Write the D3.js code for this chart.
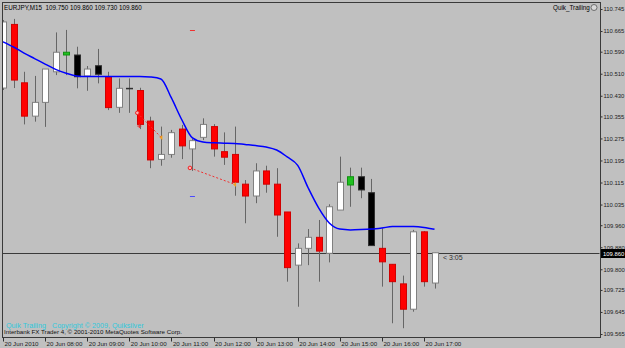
<!DOCTYPE html>
<html>
<head>
<meta charset="utf-8">
<script src="https://cdn.jsdelivr.net/npm/d3@7"></script>
<style>
    body { margin: 0; background: #c0c0c0; }
    svg { display: block; font-family: "Liberation Sans", Arial, sans-serif; }
</style>
</head>
<body>
<div id="chart"></div>
<script>
// EURJPY M15, 20 Jun 2010, bars from 07:00 to 17:15
var opens  = [110.458,110.689,110.477,110.356,110.406,110.517,110.578,110.578,110.502,110.539,110.499,110.388,110.457,110.449,110.338,110.199,110.217,110.309,110.237,110.279,110.318,110.227,110.217,110.109,110.066,110.157,110.109,110.008,109.815,109.876,109.916,109.858,110.015,110.106,110.136,110.078,109.876,109.818,109.747,109.655,109.936,109.750];
var highs  = [110.705,110.709,110.517,110.502,110.527,110.660,110.669,110.608,110.538,110.600,110.517,110.493,110.493,110.459,110.354,110.318,110.306,110.324,110.273,110.348,110.327,110.297,110.318,110.124,110.185,110.176,110.167,110.008,109.894,109.946,109.979,110.036,110.209,110.169,110.169,110.128,109.949,109.818,109.777,109.943,109.939,109.860];
var lows   = [110.451,110.458,110.326,110.336,110.317,110.505,110.505,110.457,110.448,110.475,110.378,110.368,110.368,110.309,110.167,110.176,110.205,110.200,110.157,110.269,110.209,110.179,110.067,109.967,110.040,110.078,109.918,109.755,109.664,109.815,109.755,109.825,110.015,110.027,110.058,109.886,109.737,109.604,109.586,109.646,109.737,109.730];
var closes = [110.698,110.487,110.356,110.406,110.527,110.588,110.588,110.499,110.527,110.508,110.387,110.457,110.457,110.326,110.197,110.217,110.296,110.248,110.267,110.326,110.237,110.207,110.116,110.066,110.157,110.109,109.997,109.806,109.876,109.916,109.866,110.027,110.116,110.136,110.088,109.886,109.827,109.755,109.655,109.936,109.755,109.860];
// w = white, r = red, k = black, g = green (colouring from the indicator)
var kinds  = ["w","r","r","w","w","w","g","k","w","k","r","w","k","r","r","w","w","r","w","w","r","r","r","r","w","r","r","r","w","w","r","w","w","g","k","k","r","r","r","w","r","w"];

// Quik_Trailing blue line
var trailLine = [110.626,110.607,110.585,110.565,110.545,110.526,110.512,110.502,110.500,110.500,110.500,110.500,110.500,110.500,110.498,110.491,110.422,110.342,110.277,110.262,110.259,110.258,110.257,110.253,110.249,110.244,110.233,110.208,110.177,110.095,110.022,109.968,109.946,109.943,109.944,109.946,109.950,109.955,109.955,109.955,109.952,109.945];

var priceTicks = [110.745,110.665,110.590,110.510,110.430,110.355,110.275,110.195,110.115,110.035,109.960,109.880,109.800,109.725,109.645,109.565];
var timeLabels = ["20 Jun 2010","20 Jun 08:00","20 Jun 09:00","20 Jun 10:00","20 Jun 11:00","20 Jun 12:00","20 Jun 13:00","20 Jun 14:00","20 Jun 15:00","20 Jun 16:00","20 Jun 17:00"];
var timeLabelBars = [0,4,8,12,16,20,24,28,32,36,40];

// trade arrows
var tradeOpenBar = [13, 18];
var tradeOpenPrice = [110.368, 110.168];
var tradeCloseBar = [15, 22];
var tradeClosePrice = [110.278, 110.108];
var stopBar = [13];
var stopPrice = [110.320];

// little signal dashes
var signalBar = [18, 18];
var signalPrice = [110.669, 110.066];
var signalColor = ["#f03030", "#4a4aff"];

var bidPrice = 109.860;
var header = "EURJPY,M15  109.750 109.860 109.730 109.860";

var W = 625, H = 348;
// plot box (note: "top" is taken by window.top, so use other names)
var pL = 2, pR = 600, pT = 2, pB = 337;

var svg = d3.select("#chart").append("svg").attr("width", W).attr("height", H);

svg.append("rect").attr("width", W).attr("height", H).attr("fill", "#c0c0c0");

var x = d3.scaleLinear().domain([0, 40]).range([3, 424]);
var y = d3.scaleLinear().domain([109.565, 110.745]).range([334, 9]);

svg.append("clipPath").attr("id", "plotclip")
    .append("rect").attr("x", pL + 0.5).attr("y", pT + 0.5)
    .attr("width", pR - pL - 1).attr("height", pB - pT - 1);

var plot = svg.append("g").attr("clip-path", "url(#plotclip)");

// price axis on the right
var yAxis = d3.axisRight(y).tickValues(priceTicks).tickSize(2).tickPadding(1)
    .tickFormat(d3.format(".3f"));
var yg = svg.append("g").attr("transform", "translate(" + (pR + 0.5) + ",0)").call(yAxis);
yg.select(".domain").remove();
yg.selectAll("line").attr("stroke", "#303030");
yg.selectAll("text").attr("fill", "#202020").attr("font-size", "5.9px");

// time axis
var xg = svg.append("g").attr("transform", "translate(0," + (pB + 0.5) + ")");
xg.selectAll("line").data(timeLabelBars).enter().append("line")
    .attr("x1", function (d) { return Math.round(x(d)) + 0.5; })
    .attr("x2", function (d) { return Math.round(x(d)) + 0.5; })
    .attr("y1", 0).attr("y2", 4)
    .attr("stroke", "#303030");
xg.selectAll("text").data(timeLabelBars).enter().append("text")
    .attr("x", function (d) { return x(d) + 1.5; })
    .attr("y", 8.5)
    .attr("font-size", "6.2px")
    .attr("fill", "#202020")
    .text(function (d, i) { return timeLabels[i]; });

// current bid line
plot.append("line")
    .attr("x1", pL).attr("x2", pR)
    .attr("y1", Math.round(y(bidPrice)) + 0.5).attr("y2", Math.round(y(bidPrice)) + 0.5)
    .attr("stroke", "#3a3a3a");

// candles
var idx = d3.range(opens.length);
var fills = { w: "#ffffff", r: "#ff0000", k: "#000000", g: "#20c020" };
var edges = { w: "#808080", r: "#d00000", k: "#303030", g: "#109010" };

plot.selectAll(".wick").data(idx).enter().append("line")
    .attr("class", "wick")
    .attr("x1", function (i) { return Math.round(x(i)) + 0.5; })
    .attr("x2", function (i) { return Math.round(x(i)) + 0.5; })
    .attr("y1", function (i) { return y(highs[i]); })
    .attr("y2", function (i) { return y(lows[i]); })
    .attr("stroke", "#666666")
    .attr("stroke-width", 1);

plot.selectAll(".body").data(idx).enter().append("rect")
    .attr("class", "body")
    .attr("x", function (i) { return Math.round(x(i)) - 2.5; })
    .attr("y", function (i) { return y(Math.max(opens[i], closes[i])); })
    .attr("width", 6)
    .attr("height", function (i) {
        return Math.max(0.5, y(Math.min(opens[i], closes[i])) - y(Math.max(opens[i], closes[i])));
    })
    .attr("fill", function (i) { return fills[kinds[i]]; })
    .attr("stroke", function (i) { return edges[kinds[i]]; })
    .attr("stroke-width", 1);

// trailing line
var line = d3.line()
    .x(function (d, i) { return x(i); })
    .y(function (d) { return y(d); })
    .curve(d3.curveMonotoneX);

plot.append("path").datum(trailLine)
    .attr("d", line)
    .attr("fill", "none")
    .attr("stroke", "#0000ff")
    .attr("stroke-width", 1.5);

// trades
tradeOpenBar.forEach(function (b, i) {
    var x0 = x(b) - 2.5, y0 = y(tradeOpenPrice[i]);
    var x1 = x(tradeCloseBar[i]) + 0.5, y1 = y(tradeClosePrice[i]);
    plot.append("line")
        .attr("x1", x0).attr("y1", y0).attr("x2", x1).attr("y2", y1)
        .attr("stroke", "#f03030").attr("stroke-dasharray", "2,2");
    plot.append("circle").attr("cx", x0).attr("cy", y0).attr("r", 1.8)
        .attr("fill", "#ffb0b0").attr("stroke", "#f02020").attr("stroke-width", 1);
    plot.append("path")
        .attr("d", "M" + (x1 - 2) + "," + y1 + "L" + (x1 + 1) + "," + (y1 - 2.5) + "L" + (x1 + 1) + "," + (y1 + 2.5) + "Z")
        .attr("fill", "#f0a020");
});

stopBar.forEach(function (b, i) {
    var sx = x(b) - 0.5, sy = y(stopPrice[i]);
    plot.append("path")
        .attr("d", "M" + (sx - 2) + "," + sy + "H" + (sx + 2) + "M" + sx + "," + (sy - 2) + "V" + (sy + 2))
        .attr("stroke", "#f02020").attr("stroke-width", 1);
});

signalBar.forEach(function (b, i) {
    plot.append("line")
        .attr("x1", x(b) - 2.5).attr("x2", x(b) + 2.5)
        .attr("y1", Math.round(y(signalPrice[i])) + 0.5).attr("y2", Math.round(y(signalPrice[i])) + 0.5)
        .attr("stroke", signalColor[i]).attr("stroke-width", 1);
});

// plot border
svg.append("rect")
    .attr("x", pL + 0.5).attr("y", pT + 0.5)
    .attr("width", pR - pL).attr("height", pB - pT)
    .attr("fill", "none").attr("stroke", "#3a3a3a");

// bid label on the price axis
var by = Math.round(y(bidPrice));
svg.append("rect").attr("x", pR + 1).attr("y", by - 4).attr("width", 24).attr("height", 9).attr("fill", "#000");
svg.append("text").attr("x", pR + 3).attr("y", by + 3).attr("font-size", "5.9px")
    .attr("fill", "#fff").text(d3.format(".3f")(bidPrice));

// texts
svg.append("text").attr("x", 4).attr("y", 9.5).attr("font-size", "6.3px").attr("fill", "#000")
    .style("white-space", "pre").text(header);

svg.append("text").attr("x", 553).attr("y", 10).attr("font-size", "6.3px").attr("fill", "#000")
    .text("Quik_Trailing");
svg.append("circle").attr("cx", 594).attr("cy", 7.5).attr("r", 3)
    .attr("fill", "#d8d8d8").attr("stroke", "#555").attr("stroke-width", 0.8);

svg.append("text").attr("x", 443).attr("y", 260).attr("font-size", "7px").attr("fill", "#303030")
    .text("< 3:05");

svg.append("text").attr("x", 6).attr("y", 328).attr("font-size", "7.2px").attr("fill", "#30c8dc")
    .style("white-space", "pre").text("Quik Trailing   Copyright \u00a9 2009, Quiksilver");

svg.append("text").attr("x", 4).attr("y", 334).attr("font-size", "6.2px").attr("fill", "#101010")
    .text("Interbank FX Trader 4, \u00a9 2001-2010 MetaQuotes Software Corp.");
</script>
</body>
</html>
